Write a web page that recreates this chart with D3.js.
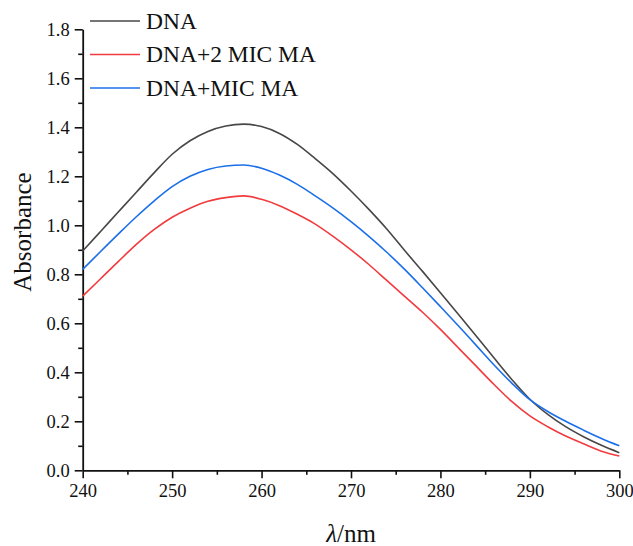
<!DOCTYPE html>
<html>
<head>
<meta charset="utf-8">
<script src="https://cdn.jsdelivr.net/npm/d3@7"></script>
<style>
  html, body { margin: 0; padding: 0; background: #fff; }
  svg { display: block; }
  text { font-family: "Liberation Serif", "DejaVu Serif", serif; fill: #111; }
</style>
</head>
<body>
<svg id="chart" width="633" height="546"></svg>
<script>
// ---- data ----
const wavelengths = [240,242,244,246,248,250,252,254,256,258,260,262,264,266,268,270,272,274,276,278,280,282,284,286,288,290,292,294,296,298,300];
const dnaValues   = [0.895,0.975,1.055,1.135,1.215,1.29,1.345,1.383,1.405,1.413,1.403,1.375,1.33,1.272,1.21,1.14,1.065,0.985,0.897,0.812,0.725,0.637,0.548,0.458,0.37,0.29,0.228,0.178,0.137,0.102,0.072];
const dna2MicValues = [0.711,0.782,0.853,0.922,0.983,1.033,1.07,1.098,1.113,1.12,1.106,1.08,1.045,1.005,0.955,0.9,0.84,0.775,0.71,0.645,0.575,0.5,0.425,0.35,0.28,0.222,0.178,0.14,0.108,0.078,0.058];
const dnaMicValues  = [0.82,0.893,0.965,1.035,1.1,1.158,1.2,1.228,1.242,1.246,1.233,1.205,1.167,1.12,1.07,1.015,0.955,0.89,0.82,0.745,0.668,0.59,0.51,0.43,0.355,0.288,0.24,0.2,0.164,0.13,0.1];
const seriesNames = ["DNA", "DNA+2 MIC MA", "DNA+MIC MA"];
const seriesColors = ["#474747", "#f23b3f", "#1b6fe8"];
const xTicks = [240,250,260,270,280,290,300];
const yTicks = [0.0,0.2,0.4,0.6,0.8,1.0,1.2,1.4,1.6,1.8];

(function () {
const series = [dnaValues, dna2MicValues, dnaMicValues];

const svg = d3.select("#chart");
const pLeft = 82.7, pRight = 619.3, pTop = 29.3, pBottom = 470.3;

const x = d3.scaleLinear().domain([240, 300]).range([pLeft, pRight]);
const y = d3.scaleLinear().domain([0, 1.8]).range([pBottom, pTop]);

// minor ticks
const xMinor = d3.range(245, 300, 10);
const yMinor = d3.range(0.1, 1.8, 0.2);

svg.append("g")
  .attr("transform", `translate(0,${pBottom})`)
  .call(d3.axisBottom(x).tickValues(xMinor).tickSize(4.5).tickFormat(""))
  .call(g => g.select(".domain").remove())
  .call(g => g.selectAll("line").attr("stroke", "#111").attr("stroke-width", 1.6));

svg.append("g")
  .attr("transform", `translate(${pLeft},0)`)
  .call(d3.axisLeft(y).tickValues(yMinor).tickSize(4.5).tickFormat(""))
  .call(g => g.select(".domain").remove())
  .call(g => g.selectAll("line").attr("stroke", "#111").attr("stroke-width", 1.6));

const xAxis = svg.append("g")
  .attr("transform", `translate(0,${pBottom})`)
  .call(d3.axisBottom(x).tickValues(xTicks).tickSize(8).tickSizeOuter(0).tickPadding(6).tickFormat(d3.format("d")));
xAxis.selectAll("text").style("font-size", "18.5px").attr("fill", "#111").attr("font-family", "Liberation Serif");
xAxis.selectAll("line").attr("stroke", "#111").attr("stroke-width", 1.6);
xAxis.select(".domain").attr("stroke", "#111").attr("stroke-width", 1.8);

const yAxis = svg.append("g")
  .attr("transform", `translate(${pLeft},0)`)
  .call(d3.axisLeft(y).tickValues(yTicks).tickSize(8).tickSizeOuter(0).tickPadding(5).tickFormat(d3.format(".1f")));
yAxis.selectAll("text").style("font-size", "18.5px").attr("fill", "#111").attr("font-family", "Liberation Serif");
yAxis.selectAll("line").attr("stroke", "#111").attr("stroke-width", 1.6);
yAxis.select(".domain").attr("stroke", "#111").attr("stroke-width", 1.8);

// lines
const line = d3.line()
  .x((d, i) => x(wavelengths[i]))
  .y(d => y(d))
  .curve(d3.curveMonotoneX);

series.forEach((vals, k) => {
  svg.append("path")
    .datum(vals)
    .attr("fill", "none")
    .attr("stroke", seriesColors[k])
    .attr("stroke-width", 1.6)
    .attr("d", line);
});

// legend
const legY = [21, 54.5, 88];
seriesNames.forEach((name, k) => {
  svg.append("line")
    .attr("x1", 90).attr("x2", 140)
    .attr("y1", legY[k]).attr("y2", legY[k])
    .attr("stroke", seriesColors[k]).attr("stroke-width", 1.6);
  svg.append("text")
    .attr("x", 146).attr("y", legY[k] + 7.5)
    .style("font-size", "23.5px")
    .text(name);
});

// axis titles
svg.append("text")
  .attr("transform", `translate(31,${232}) rotate(-90)`)
  .attr("text-anchor", "middle")
  .style("font-size", "25px")
  .text("Absorbance");

const xt = svg.append("text")
  .attr("x", 351).attr("y", 542)
  .attr("text-anchor", "middle")
  .style("font-size", "25px");
xt.append("tspan").attr("font-style", "italic").text("λ");
xt.append("tspan").text("/nm");
})();
</script>
</body>
</html>
